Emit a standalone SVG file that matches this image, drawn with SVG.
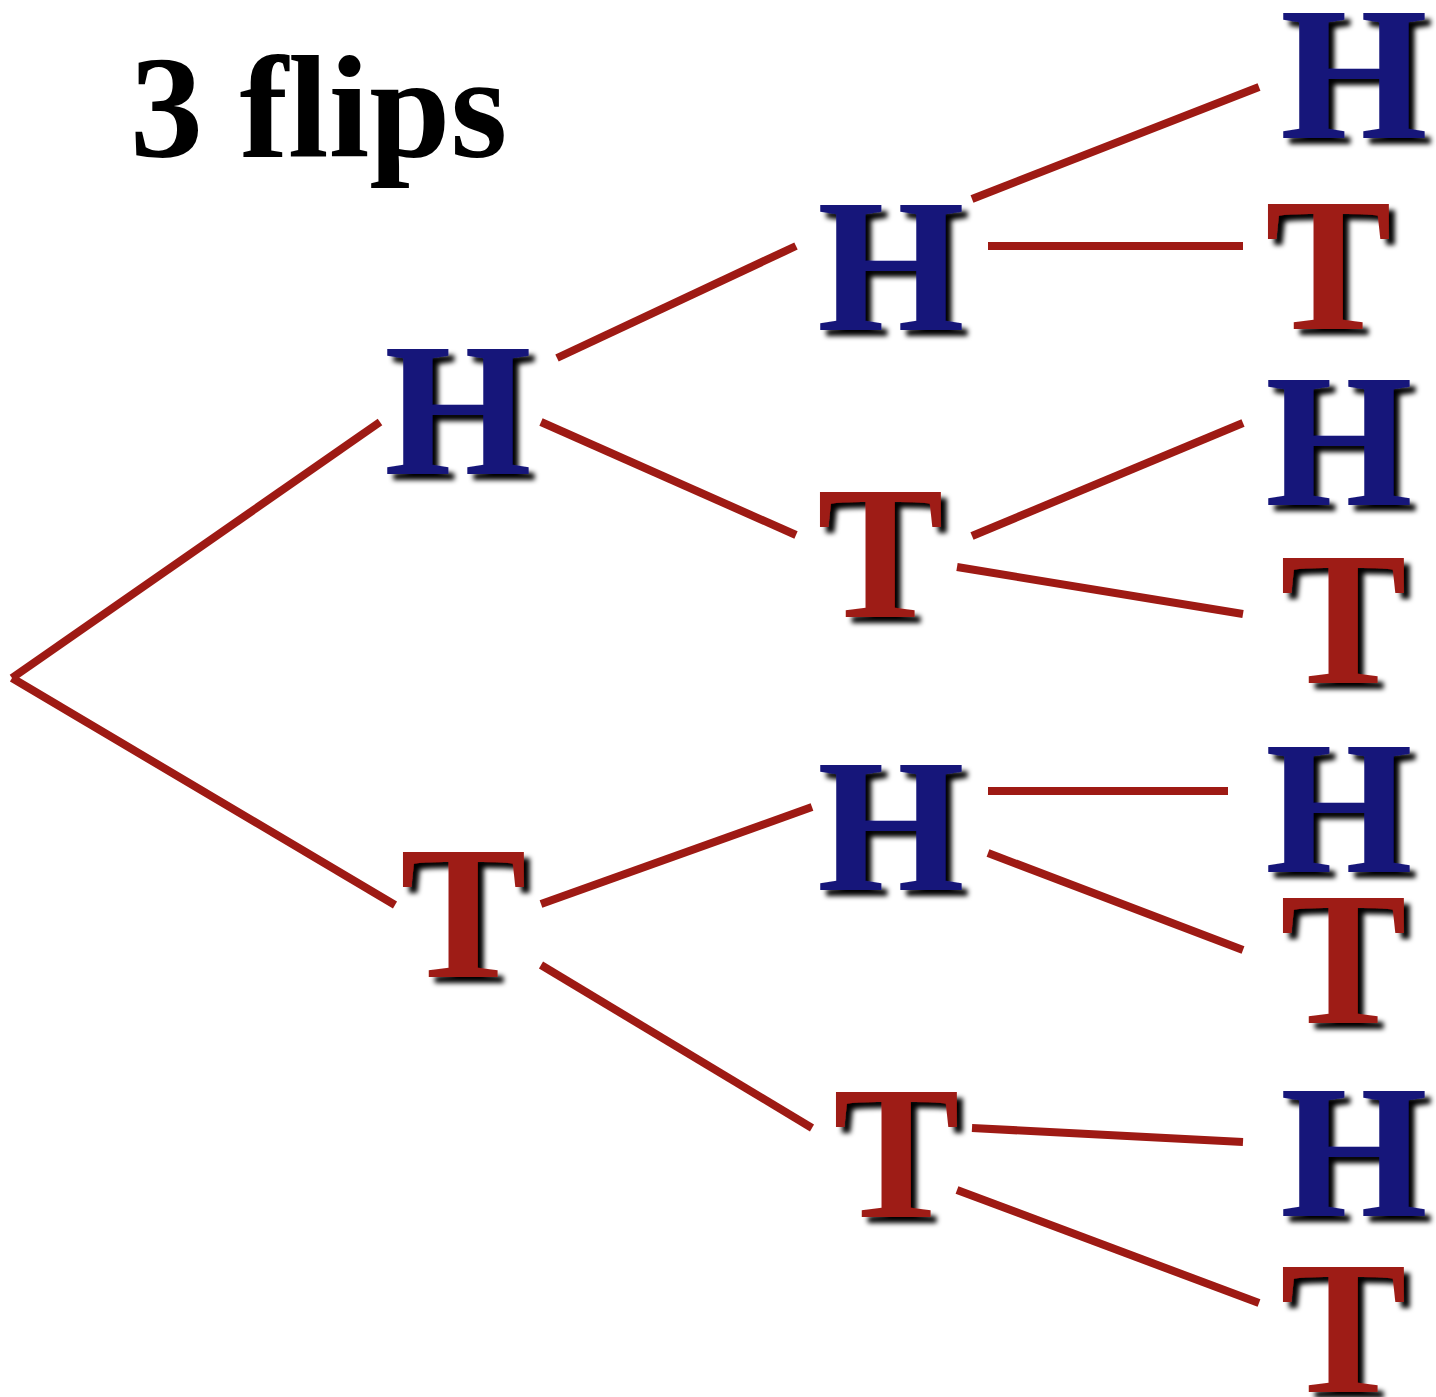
<svg xmlns="http://www.w3.org/2000/svg" width="1436" height="1397" viewBox="0 0 1436 1397">
<defs>
<filter id="sh" x="-20%" y="-20%" width="150%" height="150%">
<feGaussianBlur in="SourceAlpha" stdDeviation="2.5" result="b"/>
<feOffset in="b" dx="6" dy="6" result="o"/>
<feMerge><feMergeNode in="o"/><feMergeNode in="SourceGraphic"/></feMerge>
</filter>
</defs>
<style>
.l{font-family:"Liberation Serif","Times New Roman",serif;font-weight:bold;font-size:190px;filter:url(#sh)}
.h{fill:#17177a}
.t{fill:#9e1a14}
.e{stroke:#9e1a14;stroke-width:8;fill:none}
.title{font-family:"Liberation Serif","Times New Roman",serif;font-weight:bold;font-size:146px;fill:#000}
</style>
<rect width="1436" height="1397" fill="#fff"/>
<text class="title" x="130" y="157" xml:space="preserve">3 flips</text>
<g id="connectors">
<line class="e" x1="12" y1="678" x2="380" y2="422"/>
<line class="e" x1="12" y1="678" x2="395" y2="905"/>
<line class="e" x1="557" y1="358" x2="796" y2="246"/>
<line class="e" x1="541" y1="422" x2="796" y2="535"/>
<line class="e" x1="541" y1="904" x2="812" y2="807"/>
<line class="e" x1="541" y1="965" x2="812" y2="1128"/>
<line class="e" x1="972" y1="199" x2="1259" y2="87"/>
<line class="e" x1="988" y1="246" x2="1243" y2="246"/>
<line class="e" x1="972" y1="536" x2="1243" y2="423"/>
<line class="e" x1="957" y1="567" x2="1243" y2="614"/>
<line class="e" x1="988" y1="791" x2="1228" y2="791"/>
<line class="e" x1="988" y1="853" x2="1243" y2="950"/>
<line class="e" x1="972" y1="1128" x2="1243" y2="1142"/>
<line class="e" x1="957" y1="1190" x2="1259" y2="1303"/>
</g>
<g id="n1H"><text class="l h" x="384" y="474">H</text></g>
<g id="n1T"><text class="l t" x="400" y="977">T</text></g>
<g id="n2HH"><text class="l h" x="817" y="330">H</text></g>
<g id="n2HT"><text class="l t" x="817" y="617">T</text></g>
<g id="n2TH"><text class="l h" x="817" y="890">H</text></g>
<g id="n2TT"><text class="l t" x="833" y="1217">T</text></g>
<g id="n3HHH"><text class="l h" x="1280" y="138">H</text></g>
<g id="n3HHT"><text class="l t" x="1265" y="329">T</text></g>
<g id="n3HTH"><text class="l h" x="1265" y="505">H</text></g>
<g id="n3HTT"><text class="l t" x="1280" y="683">T</text></g>
<g id="n3THH"><text class="l h" x="1265" y="872">H</text></g>
<g id="n3THT"><text class="l t" x="1280" y="1023">T</text></g>
<g id="n3TTH"><text class="l h" x="1280" y="1216">H</text></g>
<g id="n3TTT"><text class="l t" x="1280" y="1392">T</text></g>
</svg>
